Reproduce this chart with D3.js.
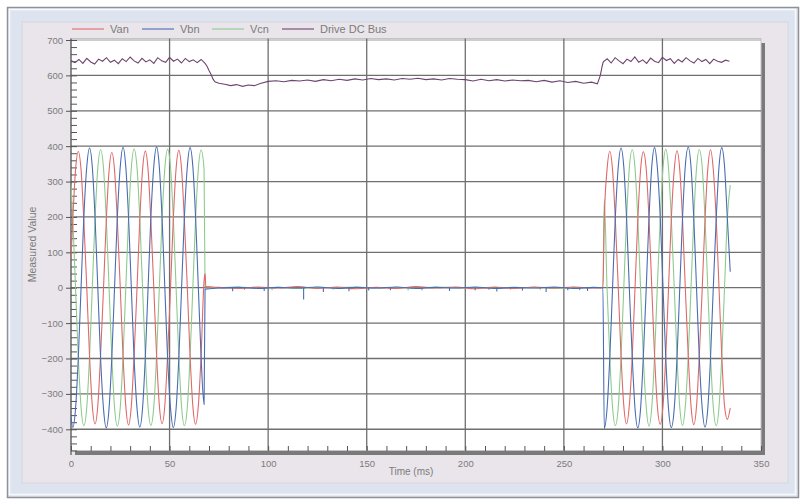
<!DOCTYPE html>
<html>
<head>
<meta charset="utf-8">
<script src="https://cdn.jsdelivr.net/npm/d3@7"></script>
<style>
body { margin: 0; background: #fff; }
svg { display: block; font-family: "Liberation Sans", Arial, sans-serif; }
</style>
</head>
<body>
<svg id="chart" width="808" height="501"></svg>
<script>
var seriesNames = ["Van", "Vbn", "Vcn", "Drive DC Bus"];
var seriesColors = ["#e06868", "#4a6cb3", "#8dcb8d", "#6d4470"];

var xTicks = [0, 50, 100, 150, 200, 250, 300, 350];
var yTicks = [-400, -300, -200, -100, 0, 100, 200, 300, 400, 500, 600, 700];

// waveforms before the drive stops (ms)
var leftTime = [0,0.9,2.3,3.7,5.1,6.5,8.0,9.4,10.8,12.2,13.6,15.0,16.5,17.9,19.3,20.7,22.1,23.5,25.0,26.4,27.8,29.2,30.6,32.0,33.5,34.9,36.3,37.7,39.1,40.5,42.0,43.4,44.8,46.2,47.6,49.0,50.5,51.9,53.3,54.7,56.1,57.5,59.0,60.4,61.8,63.2,64.6,66.0,67.5];
var vanLeft = [80,192,333,385,333,192,0,-192,-333,-385,-333,-192,
  0,190,330,382,331,190,-2,-194,-335,-388,-334,-193,
  0,193,334,386,333,191,0,-191,-332,-384,-332,-190,
  2,194,336,388,334,192,0,-193,-334,-386,-333,-191,
  20];
var vbnLeft = [-365,-395,-342,-198,0,198,342,395,342,198,0,-198,
  -343,-396,-341,-197,2,199,343,397,341,197,0,-199,
  -342,-394,-340,-196,0,198,344,398,342,196,-1,-198,
  -341,-395,-342,-198,0,197,342,396,343,199,0,-197,
  -330];
var vcnLeft = [290,195,0,-195,-338,-390,-338,-195,0,195,338,390,
  337,194,0,-196,-339,-391,-337,-194,1,196,339,392,
  338,195,-1,-195,-338,-389,-336,-193,0,195,338,391,
  339,196,0,-194,-337,-390,-338,-195,0,194,337,389,
  335];

// flat stretch while the drive is off [ms, value]
var vanMid = [[68.0,40],[68.4,3],[75,1],[85,-2],[95,2],[105,-1],[115,3],[125,-2],[135,2],[145,-3],[155,1],[165,-2],[175,3],[185,-1],[195,2],[205,-3],[215,1],[225,-2],[235,2],[245,-1],[255,2],[265,-1],[269.8,0]];
var vbnMid = [[68.0,-4],[75,-1],[85,1],[95,-2],[105,1],[115,-1],[125,2],[135,-2],[145,1],[155,-1],[165,2],[175,-2],[185,1],[195,-1],[205,2],[215,-2],[225,1],[235,-1],[245,2],[255,-2],[265,1],[269.8,0]];
var vcnMid = [[68.0,3],[75,0],[85,2],[95,-1],[105,1],[115,-2],[125,1],[135,0],[145,2],[155,-1],[165,1],[175,-1],[185,2],[195,0],[205,-1],[215,2],[225,-1],[235,1],[245,-2],[255,1],[265,0],[269.8,0]];

// short glitches on the flat part [ms, value]
var vanSpikes = [[88,-6],[142,-5],[178,-7],[212,-6],[238,-5],[258,-6]];
var vbnSpikes = [[82,-10],[98,-9],[118,-33],[128,-12],[141,-10],[151,-8],[162,-7],[192,-9],[205,-7],[216,-11],[229,-8],[241,-12],[252,-7],[262,-9]];
var vcnSpikes = [[102,-7],[133,-6],[171,-8],[223,-6],[258,-7]];

// waveforms after restart (ms)
var rightTime = [270.5,271.9,273.3,274.7,276.1,277.6,279.0,280.4,281.8,283.2,284.7,286.1,287.5,288.9,290.3,291.8,293.2,294.6,296.0,297.4,298.9,300.3,301.7,303.1,304.5,306.0,307.4,308.8,310.2,311.6,313.1,314.5,315.9,317.3,318.7,320.2,321.6,323.0,324.4,325.8,327.3,328.7,330.1,331.5,332.9,334.4];
var vanRight = [192,333,385,333,192,0,-192,-333,-385,-333,-192,0,
  191,332,384,334,193,1,-191,-332,-386,-334,-193,0,
  193,334,387,333,192,0,-193,-334,-387,-335,-192,-1,
  192,335,390,334,191,0,-192,-334,-372,-340];
var vbnRight = [-398,-342,-198,0,198,342,395,342,198,0,-198,-342,
  -396,-343,-197,1,199,343,396,341,197,0,-199,-343,
  -395,-341,-198,0,198,344,397,342,196,-1,-198,-342,
  -394,-342,-197,0,197,342,396,343,199,45];
var vcnRight = [250,0,-195,-338,-390,-338,-195,0,195,338,390,338,
  196,0,-196,-339,-391,-337,-194,1,196,339,391,337,
  195,-1,-195,-338,-389,-336,-193,0,195,338,390,339,
  196,0,-194,-337,-390,-338,-195,0,194,290];

// DC bus
var dcTime = [0,2,4,6,8,10,12,14,16,18,20,22,24,26,28,30,32,34,36,38,40,42,44,46,48,50,52,54,56,58,60,62,64,66,
  68,69,70,71,72,73,75,78,81,84,87,90,93,96,
  100,104,108,112,116,120,124,128,132,136,140,144,148,152,156,160,164,168,172,176,180,184,188,192,196,200,204,208,212,216,220,224,228,232,236,240,244,248,252,256,260,264,
  267,268.5,269.5,
  270,272,274,276,278,280,282,284,286,288,290,292,294,296,298,300,302,304,306,308,310,312,314,316,318,320,322,324,326,328,330,332,334];
var dcValue = [642,636,645,634,648,638,632,646,640,650,637,643,633,647,639,652,641,635,648,638,644,634,650,641,637,651,640,646,635,648,639,644,636,645,
  634,626,614,603,590,582,578,575,571,574,569,573,571,577,
  583,585,582,586,584,587,583,588,585,589,586,590,587,591,588,590,587,591,589,592,588,590,587,591,589,588,584,589,585,588,584,587,585,586,582,586,581,585,580,583,578,581,
  576,600,628,
  638,647,635,650,641,633,646,639,652,637,644,634,649,640,636,651,642,647,634,645,638,650,641,635,648,639,645,633,646,640,637,643,640];

// ---- layout ----
var svg = d3.select("#chart");
var x = d3.scaleLinear().domain([0, 350]).range([71, 761]);
var y = d3.scaleLinear().domain([-460, 700]).range([450.5, 40]);
var plotTop = 38.5, plotBottom = 450.5;
var labelColor = "#7b7b7b";

// frame
svg.append("rect").attr("x", 7.5).attr("y", 7.5).attr("width", 791).attr("height", 490)
  .attr("fill", "#dde4ef").attr("stroke", "#8f9196").attr("stroke-width", 1.5);
svg.append("rect").attr("x", 9.5).attr("y", 9.5).attr("width", 786).attr("height", 485)
  .attr("fill", "none").attr("stroke", "#f7f9fc").attr("stroke-width", 1.5);
svg.append("rect").attr("x", 22).attr("y", 22).attr("width", 766).attr("height", 461)
  .attr("fill", "#eae5ea").attr("stroke", "#d3d6de");

// plot box with drop shadow
svg.append("rect").attr("x", 75).attr("y", 43).attr("width", 690).attr("height", 412).attr("fill", "#7a7a7a");
svg.append("rect").attr("x", 71).attr("y", plotTop).attr("width", 690).attr("height", plotBottom - plotTop)
  .attr("fill", "#fff").attr("stroke", "#c4c4c4").attr("stroke-width", 1);

// grid
svg.append("g").selectAll("line").data(yTicks).enter().append("line")
  .attr("x1", 71).attr("x2", 761)
  .attr("y1", function(d) { return y(d); }).attr("y2", function(d) { return y(d); })
  .attr("stroke", function(d) { return d == 700 ? "#bdbdbd" : "#6f6f6f"; })
  .attr("stroke-width", 1.3);
svg.append("g").selectAll("line").data(xTicks.filter(function(d) { return d > 0 && d < 350; })).enter().append("line")
  .attr("x1", function(d) { return x(d); }).attr("x2", function(d) { return x(d); })
  .attr("y1", plotTop).attr("y2", plotBottom)
  .attr("stroke", "#6f6f6f").attr("stroke-width", 1.3);

// axes
var yAxis = svg.append("g").attr("transform", "translate(71,0)")
  .call(d3.axisLeft(y).tickValues(yTicks).tickSize(5).tickPadding(3));
var yMinor = svg.append("g").attr("transform", "translate(71,0)")
  .call(d3.axisRight(y).tickValues(d3.range(-460, 701, 20)).tickSize(6).tickFormat(""));
var xAxis = svg.append("g").attr("transform", "translate(0,455)")
  .call(d3.axisBottom(x).tickValues(xTicks).tickSize(0).tickPadding(5));
var xMinor = svg.append("g").attr("transform", "translate(0,451)")
  .call(d3.axisTop(x).tickValues(d3.range(0, 351, 10)).tickSize(5).tickFormat(""));

[yAxis, yMinor, xAxis, xMinor].forEach(function(g) {
  g.select(".domain").remove();
  g.selectAll(".tick line").attr("stroke", "#555");
  g.selectAll(".tick text").attr("fill", labelColor).style("font-size", "9.5px")
    .style("font-family", "'Liberation Sans', Arial, sans-serif");
});
svg.append("line").attr("x1", 71).attr("x2", 71).attr("y1", plotTop).attr("y2", 455)
  .attr("stroke", "#555").attr("stroke-width", 1.2);

// axis titles
svg.append("text").attr("transform", "translate(36," + ((plotTop + plotBottom) / 2) + ") rotate(-90)")
  .attr("text-anchor", "middle").attr("fill", labelColor).style("font-size", "10.5px")
  .text("Measured Value");
svg.append("text").attr("x", 411).attr("y", 475)
  .attr("text-anchor", "middle").attr("fill", labelColor).style("font-size", "10px")
  .text("Time (ms)");

// series
svg.append("clipPath").attr("id", "plotclip").append("rect")
  .attr("x", 71).attr("y", plotTop).attr("width", 690).attr("height", plotBottom - plotTop);
var plot = svg.append("g").attr("clip-path", "url(#plotclip)");

function pairs(times, vals) {
  return times.map(function(t, i) { return [t, vals[i]]; });
}
var wave = d3.line()
  .x(function(d) { return x(d[0]); })
  .y(function(d) { return y(d[1]); })
  .curve(d3.curveMonotoneX);

var phases = [
  { color: seriesColors[2], pts: pairs(leftTime, vcnLeft).concat(vcnMid, pairs(rightTime, vcnRight)), spikes: vcnSpikes },
  { color: seriesColors[0], pts: pairs(leftTime, vanLeft).concat(vanMid, pairs(rightTime, vanRight)), spikes: vanSpikes },
  { color: seriesColors[1], pts: pairs(leftTime, vbnLeft).concat(vbnMid, pairs(rightTime, vbnRight)), spikes: vbnSpikes }
];

phases.forEach(function(p) {
  plot.append("path").datum(p.pts)
    .attr("d", wave).attr("fill", "none")
    .attr("stroke", p.color).attr("stroke-width", 1.1);
  plot.append("g").selectAll("line").data(p.spikes).enter().append("line")
    .attr("x1", function(d) { return x(d[0]); }).attr("x2", function(d) { return x(d[0]); })
    .attr("y1", y(0)).attr("y2", function(d) { return y(d[1]); })
    .attr("stroke", p.color).attr("stroke-width", 1.1);
});

plot.append("path").datum(pairs(dcTime, dcValue))
  .attr("d", d3.line().x(function(d) { return x(d[0]); }).y(function(d) { return y(d[1]); }))
  .attr("fill", "none").attr("stroke", seriesColors[3]).attr("stroke-width", 1.1);

// legend
var legendX = [72, 142, 212, 282];
var legend = svg.append("g").selectAll("g").data(seriesNames).enter().append("g")
  .attr("transform", function(d, i) { return "translate(" + legendX[i] + ",29)"; });
legend.append("line").attr("x1", 0).attr("x2", 32).attr("y1", 0).attr("y2", 0)
  .attr("stroke", function(d, i) { return seriesColors[i]; }).attr("stroke-width", 1.1);
legend.append("text").attr("x", 38).attr("y", 4).attr("fill", labelColor)
  .style("font-size", "11px").text(function(d) { return d; });
</script>
</body>
</html>
